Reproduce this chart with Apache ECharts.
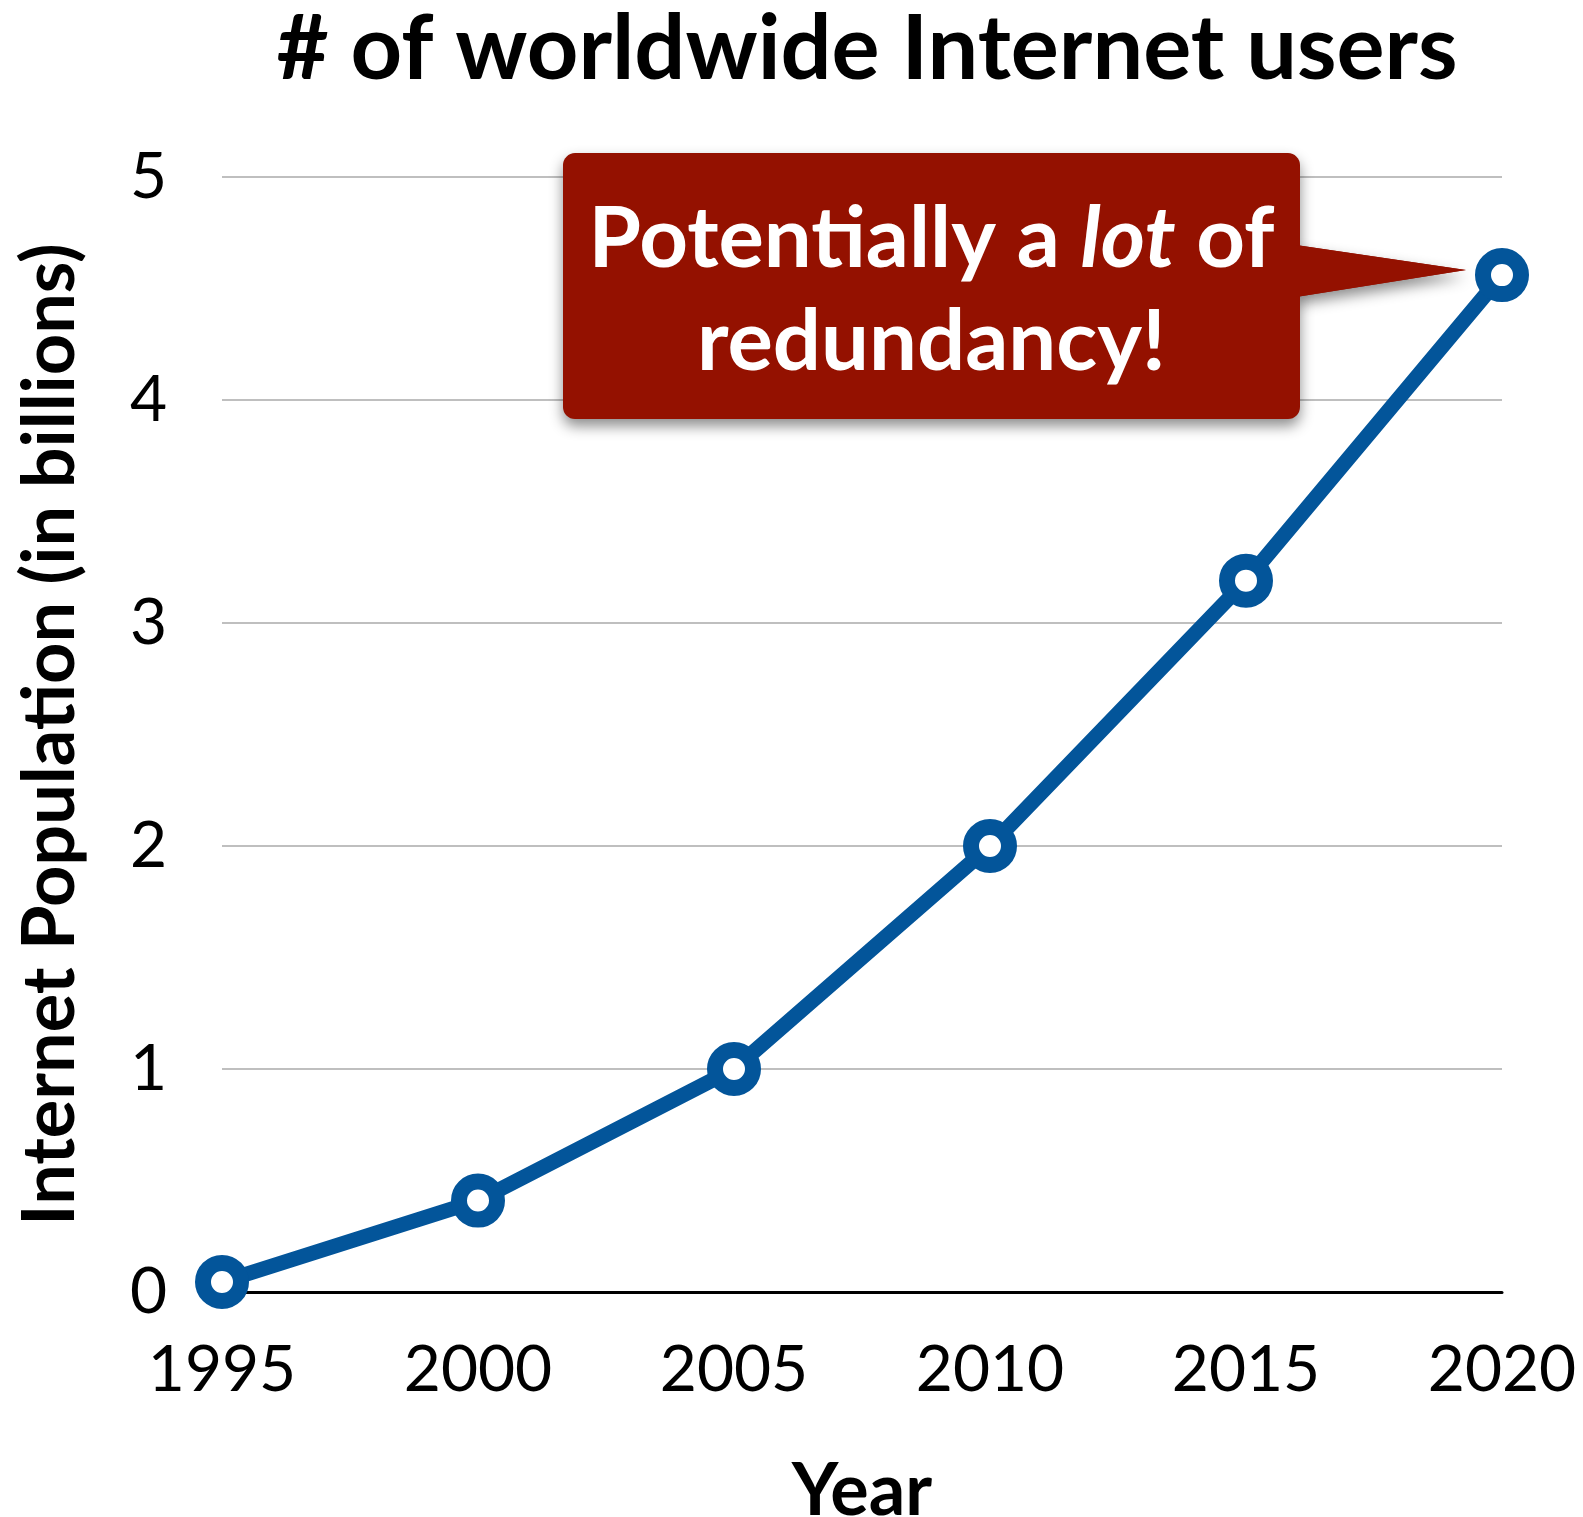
<!DOCTYPE html>
<html>
<head>
<meta charset="utf-8">
<script src="https://cdn.jsdelivr.net/npm/echarts@6/dist/echarts.min.js"></script>
<style>
  html, body { margin: 0; padding: 0; background: #fff; }
  #chart { width: 1583px; height: 1517px; }
</style>
</head>
<body>
<div id="chart"></div>
<script>
// Worldwide Internet users, in billions
const years = ['1995', '2000', '2005', '2010', '2015', '2020'];
const usersBillions = [0.045, 0.41, 1.0, 2.0, 3.19, 4.56];
const yMin = 0, yMax = 5, yStep = 1;

const FONT = 'Lato, "Noto Sans", sans-serif';
const BLUE = '#03559A';
const CALLOUT_RED = '#941100';

const chart = echarts.init(document.getElementById('chart'), null, { renderer: 'canvas' });

chart.setOption({
  backgroundColor: '#ffffff',
  animation: false,
  title: {
    text: '# of worldwide Internet users',
    left: 862,
    top: 0,
    textAlign: 'center',
    textStyle: { fontFamily: FONT, fontWeight: 'bold', fontSize: 90, color: '#000' }
  },
  grid: { left: 222, right: 81, top: 177, bottom: 225, containLabel: false, outerBoundsMode: 'none' },
  xAxis: {
    type: 'category',
    data: years,
    boundaryGap: false,
    name: 'Year',
    nameLocation: 'middle',
    nameGap: 164,
    nameTextStyle: { fontFamily: FONT, fontWeight: 'bold', fontSize: 72, color: '#000' },
    axisLine: { show: true, lineStyle: { color: '#000', width: 3 } },
    axisTick: { show: false },
    axisLabel: { margin: 46, fontFamily: FONT, fontSize: 64, color: '#000' },
    splitLine: { show: false }
  },
  yAxis: {
    type: 'value',
    min: yMin,
    max: yMax,
    interval: yStep,
    name: 'Internet Population (in billions)',
    nameLocation: 'middle',
    nameGap: 135,
    nameRotate: 90,
    nameTextStyle: { fontFamily: FONT, fontWeight: 'bold', fontSize: 72, color: '#000' },
    axisLine: { show: false },
    axisTick: { show: false },
    axisLabel: { margin: 55, fontFamily: FONT, fontSize: 64, color: '#000' },
    splitLine: { show: true, lineStyle: { color: '#BFBFBF', width: 2 } }
  },
  series: [{
    type: 'line',
    data: usersBillions,
    symbol: 'circle',
    symbolSize: 38,
    showAllSymbol: true,
    lineStyle: { color: BLUE, width: 15 },
    itemStyle: { color: '#ffffff', borderColor: BLUE, borderWidth: 16 },
    z: 5
  }]
});

// Speech-bubble callout pointing at the latest data point
const last = usersBillions.length - 1;
const pt = chart.convertToPixel({ seriesIndex: 0 }, [last, usersBillions[last]]);
const tipX = pt[0] - 36, tipY = pt[1] - 5;
const boxR = tipX - 166, boxL = boxR - 737;
const boxT = tipY - 117, boxB = boxT + 266;
const pointer = [[boxR - 4, tipY - 25], [tipX, tipY], [boxR - 4, tipY + 27]];
const shadow = { shadowBlur: 14, shadowOffsetX: 0, shadowOffsetY: 7, shadowColor: 'rgba(0,0,0,0.45)' };

chart.setOption({
  graphic: [
    {
      type: 'polygon', z: 100,
      shape: { points: pointer },
      style: Object.assign({ fill: CALLOUT_RED }, shadow)
    },
    {
      type: 'rect', z: 101,
      shape: { x: boxL, y: boxT, width: boxR - boxL, height: boxB - boxT, r: 12 },
      style: Object.assign({ fill: CALLOUT_RED }, shadow)
    },
    {
      // pointer again, unshadowed, so the box shadow does not darken its base
      type: 'polygon', z: 102,
      shape: { points: pointer },
      style: { fill: CALLOUT_RED }
    },
    {
      type: 'text', z: 103,
      x: (boxL + boxR) / 2,
      y: (boxT + boxB) / 2 + 5,
      style: {
        text: '{a|Potentially a }{i|lot}{a| of}\n{a|redundancy!}',
        align: 'center',
        verticalAlign: 'middle',
        rich: {
          a: { fontFamily: FONT, fontWeight: 'bold', fontSize: 85, lineHeight: 103, fill: '#ffffff' },
          i: { fontFamily: FONT, fontWeight: 'bold', fontStyle: 'italic', fontSize: 85, lineHeight: 103, fill: '#ffffff' }
        }
      }
    }
  ]
});
</script>
</body>
</html>
